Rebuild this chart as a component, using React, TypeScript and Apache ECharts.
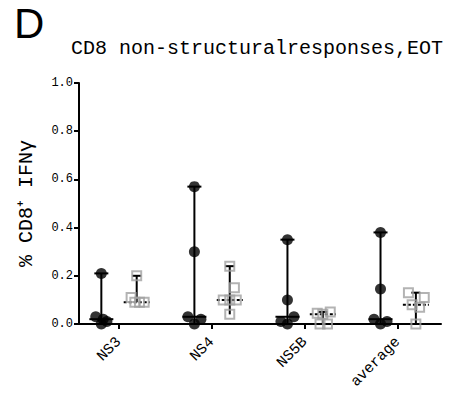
import React, { useEffect, useRef } from "react";
import * as echarts from "echarts";

const categories = ["NS3", "NS4", "NS5B", "average"];
const yTicks = [0, 0.2, 0.4, 0.6, 0.8, 1.0];

// black (filled circles) group values per category
const blackValues = [
  [0.21, 0.03, 0.0, 0.01, 0.02],
  [0.57, 0.3, 0.03, 0.02, 0.0],
  [0.35, 0.1, 0.03, 0.01, 0.0],
  [0.38, 0.145, 0.02, 0.0, 0.01],
];
// horizontal jitter of each black point (category units)
const blackJitter = [
  [0, -0.06, 0, 0.06, 0.02],
  [0, 0, -0.07, 0.07, 0],
  [0, 0, 0.07, -0.07, 0],
  [0, 0, -0.07, 0, 0.07],
];

// grey (open squares) group values per category
const greyValues = [
  [0.2, 0.11, 0.09, 0.09, 0.09],
  [0.24, 0.15, 0.1, 0.1, 0.1, 0.04],
  [0.05, 0.045, 0.04, 0.0, 0.0],
  [0.13, 0.11, 0.08, 0.07, 0.0],
];
const greyJitter = [
  [0, -0.06, -0.02, 0.03, 0.08],
  [0, 0.05, -0.07, 0, 0.07, 0],
  [0.08, -0.06, 0, -0.03, 0.05],
  [-0.08, 0.09, -0.04, 0.04, 0],
];

const groupOffset = 0.19;

const median = (arr: number[]) => {
  const s = [...arr].sort((a, b) => a - b);
  const m = Math.floor(s.length / 2);
  return s.length % 2 ? s[m] : (s[m - 1] + s[m]) / 2;
};

const FONT = "Liberation Mono";

export default function App() {
  const ref = useRef<HTMLDivElement>(null);
  useEffect(() => {
    if (!ref.current) return;
    const chart = echarts.init(ref.current, undefined, { renderer: "svg" });

    const rangeData = (vals: number[][], off: number) =>
      vals.map((v, i) => [i + off, Math.min(...v), Math.max(...v), median(v)]);

    const pointData = (vals: number[][], jit: number[][], off: number) =>
      vals.flatMap((v, i) => v.map((y, j) => [i + off + jit[i][j], y]));

    const renderRange = (capW: number, medW: number, dashed: boolean) => (params: any, api: any) => {
      const x = api.value(0);
      const pLo = api.coord([x, api.value(1)]);
      const pHi = api.coord([x, api.value(2)]);
      const pMed = api.coord([x, api.value(3)]);
      return {
        type: "group",
        children: [
          { type: "line", shape: { x1: pLo[0], y1: pLo[1], x2: pHi[0], y2: pHi[1] }, style: { stroke: "#000", lineWidth: 2 } },
          { type: "line", shape: { x1: pHi[0] - capW / 2, y1: pHi[1], x2: pHi[0] + capW / 2, y2: pHi[1] }, style: { stroke: "#000", lineWidth: 2 } },
          {
            type: "line",
            shape: { x1: pMed[0] - medW / 2, y1: pMed[1], x2: pMed[0] + medW / 2, y2: pMed[1] },
            style: { stroke: "#000", lineWidth: 2, lineDash: dashed ? [3, 2] : undefined },
          },
        ],
      };
    };

    chart.setOption({
      animation: false,
      title: {
        text: "CD8 non-structuralresponses,EOT",
        left: 66,
        top: 33,
        textStyle: { fontFamily: FONT, fontSize: 20, fontWeight: "normal", color: "#000" },
      },
      graphic: [
        {
          type: "text",
          left: 14,
          top: 2,
          style: { text: "D", fontFamily: "Liberation Sans", fontSize: 42, fill: "#000" },
        },
      ],
      grid: { left: 79, right: 22, top: 83, bottom: 83, outerBoundsMode: "none", containLabel: false },
      xAxis: {
        type: "value",
        min: -0.43,
        max: 3.46,
        splitLine: { show: false },
        axisLine: { show: true, onZero: false, lineStyle: { color: "#000", width: 2 } },
        axisTick: { show: true, customValues: [0, 1, 2, 3], length: 5, lineStyle: { color: "#000", width: 2 } },
        axisLabel: {
          customValues: [0, 1, 2, 3],
          rotate: 45,
          margin: 16,
          fontFamily: FONT,
          fontSize: 15,
          color: "#000",
          formatter: (v: number) => categories[Math.round(v)] ?? "",
        },
      },
      yAxis: {
        type: "value",
        min: 0,
        max: 1,
        interval: 0.2,
        name: "% CD8\u207A IFN\u03B3",
        nameLocation: "middle",
        nameGap: 43,
        nameTextStyle: { fontFamily: FONT, fontSize: 20, color: "#000" },
        splitLine: { show: false },
        axisLine: { show: true, onZero: false, lineStyle: { color: "#000", width: 2 } },
        axisTick: { show: true, length: 5, lineStyle: { color: "#000", width: 2 } },
        axisLabel: {
          margin: 6,
          fontFamily: FONT,
          fontSize: 12,
          color: "#000",
          formatter: (v: number) => (yTicks.includes(Math.round(v * 10) / 10) ? v.toFixed(1) : ""),
        },
      },
      series: [
        {
          type: "custom",
          z: 1,
          renderItem: renderRange(14, 24, false),
          encode: { x: 0, y: [1, 2] },
          data: rangeData(blackValues, -groupOffset),
        },
        {
          type: "custom",
          z: 1,
          renderItem: renderRange(9, 26, true),
          encode: { x: 0, y: [1, 2] },
          data: rangeData(greyValues, groupOffset),
        },
        {
          type: "scatter",
          z: 2,
          clip: false,
          symbol: "circle",
          symbolSize: 11,
          itemStyle: { color: "#000" },
          data: pointData(blackValues, blackJitter, -groupOffset),
        },
        {
          type: "scatter",
          z: 2,
          clip: false,
          symbol: "rect",
          symbolSize: 9,
          itemStyle: { color: "rgba(255,255,255,0)", borderColor: "#a0a0a0", borderWidth: 2 },
          data: pointData(greyValues, greyJitter, groupOffset),
        },
      ],
    });
    return () => chart.dispose();
  }, []);
  return <div ref={ref} style={{ position: "absolute", left: 0, top: 0, width: 463, height: 407 }} />;
}
